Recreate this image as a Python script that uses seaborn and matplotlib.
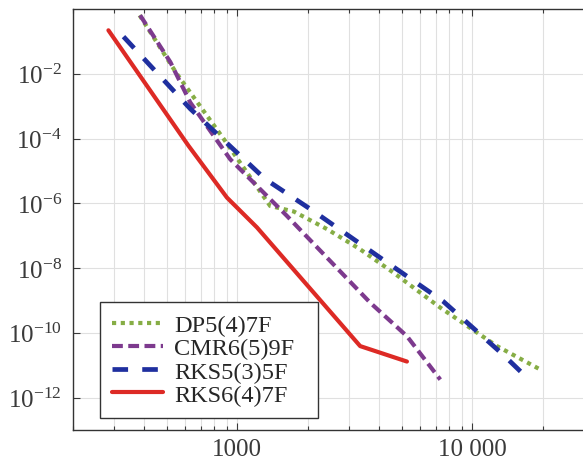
import numpy as np
import pandas as pd
import matplotlib
matplotlib.use("Agg")
import matplotlib.pyplot as plt
import matplotlib.ticker as mticker
import seaborn as sns

# nombre d'evaluations (x) et erreur globale (y)
dp_x = [384, 553, 875, 1380, 1738, 2410, 3334, 4624, 7311, 12735, 19450]
dp_err = [6.4e-1, 1.0e-2, 9.8e-5, 8.3e-7, 5.6e-7, 1.6e-7, 3.8e-8, 7.2e-9, 6.0e-10, 3.9e-11, 7.4e-12]

cmr_x = [386, 519, 631, 933, 1626, 3681, 5272, 7311]
cmr_err = [6.4e-1, 2.3e-2, 1.3e-3, 2.3e-5, 4.1e-7, 8.5e-10, 7.9e-11, 3.6e-12]

rks5_x = [328, 631, 1315, 2104, 3981, 7534, 13550, 16830]
rks5_err = [1.4e-1, 8.3e-4, 5.6e-6, 5.8e-7, 2.3e-8, 9.3e-10, 2.1e-11, 4.6e-12]

rks6_x = [283, 620, 904, 1213, 3334, 5272]
rks6_err = [2.2e-1, 6.0e-5, 1.5e-6, 1.8e-7, 3.9e-11, 1.3e-11]

labels = ["DP5(4)7F", "CMR6(5)9F", "RKS5(3)5F", "RKS6(4)7F"]
y_ticks = [1e-12, 1e-10, 1e-8, 1e-6, 1e-4, 1e-2]
x_ticks = [1000, 10000]
x_ticklabels = ["1000", "10 000"]

sns.set_style("ticks")
plt.rcParams["font.family"] = ["Liberation Serif", "DejaVu Serif"]
plt.rcParams["mathtext.fontset"] = "custom"
plt.rcParams["mathtext.rm"] = "Liberation Serif"
plt.rcParams["mathtext.it"] = "Liberation Serif:italic"

W, H = 583, 464
fig = plt.figure(figsize=(W / 100, H / 100), dpi=100)
ax_w = 235 * np.log10(150)  # 200 -> 30000, 235 px par decade
ax = fig.add_axes([73 / W, 33 / H, ax_w / W, 421 / H])

series = [
    (dp_x, dp_err, "#86ad45", 3.0, (0, (1.0, 1.1))),
    (cmr_x, cmr_err, "#7d3a8e", 3.0, (0, (2.6, 1.3))),
    (rks5_x, rks5_err, "#1f2f9f", 3.4, (0, (3.3, 3.0))),
    (rks6_x, rks6_err, "#dd2a25", 3.0, "-"),
]
for (xs, ys, col, lw, ls), lab in zip(series, labels):
    df = pd.DataFrame({"x": xs, "err": ys})
    sns.lineplot(data=df, x="x", y="err", ax=ax, color=col, lw=lw,
                 linestyle=ls, label=lab, sort=False)

ax.set_xscale("log")
ax.set_yscale("log")
ax.set_xlim(200, 30000)
ax.set_ylim(1e-13, 1)

ax.xaxis.set_major_locator(mticker.FixedLocator(x_ticks))
ax.xaxis.set_minor_locator(mticker.LogLocator(base=10, subs=np.arange(2, 10)))
ax.xaxis.set_minor_formatter(mticker.NullFormatter())
ax.set_xticklabels(x_ticklabels)
ax.yaxis.set_major_locator(mticker.FixedLocator(y_ticks))
ax.yaxis.set_minor_locator(mticker.NullLocator())
ax.set_yticklabels([r"$\mathregular{10^{%d}}$" % int(np.log10(v)) for v in y_ticks])

ax.grid(True, which="major", color="#e0e0e0", lw=0.8)
ax.grid(True, which="minor", axis="x", color="#e0e0e0", lw=0.8)
ax.set_axisbelow(True)

ax.tick_params(which="both", direction="in", top=True, right=False,
               colors="#3a3a3a", labelsize=18, width=0.8)
ax.tick_params(which="major", length=5)
ax.tick_params(axis="x", which="major", pad=6)
ax.tick_params(axis="y", which="major", pad=8)
ax.tick_params(which="minor", length=3)
for s in ax.spines.values():
    s.set_color("#333333")
    s.set_linewidth(1.0)
ax.spines["right"].set_visible(False)
ax.set_xlabel("")
ax.set_ylabel("")

leg = ax.legend(loc="lower left",
                bbox_to_anchor=(27 / ax_w, 12 / 421, 218 / ax_w, 0.2),
                mode="expand", borderaxespad=0, fontsize=17.5, frameon=True,
                fancybox=False, framealpha=1, edgecolor="#333333",
                handlelength=2.1, handletextpad=0.45, labelspacing=0.05,
                borderpad=0.5)
leg.get_frame().set_linewidth(1.0)

fig.savefig("out.png", dpi=100)
